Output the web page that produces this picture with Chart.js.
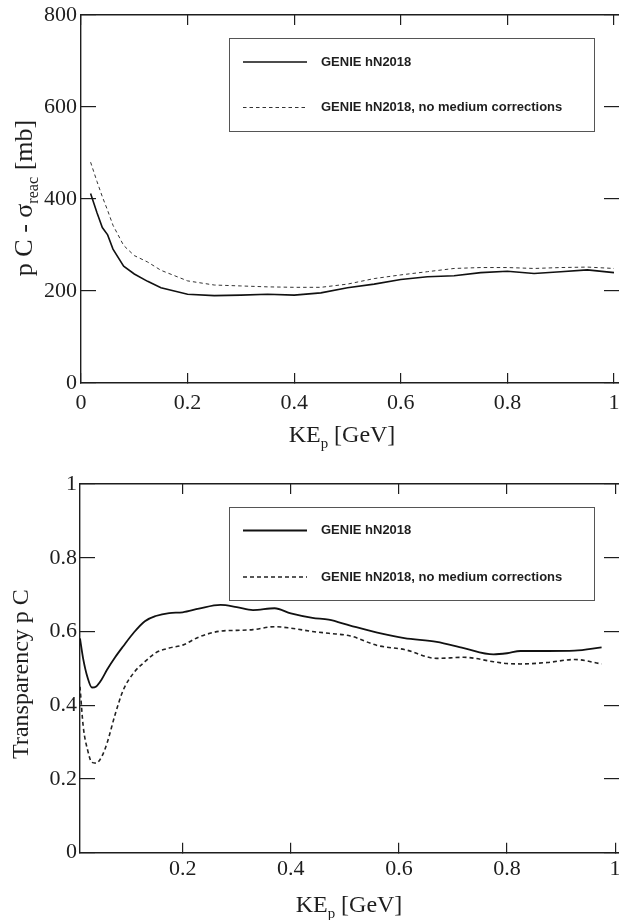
<!DOCTYPE html>
<html>
<head>
<meta charset="utf-8">
<title>GENIE hN2018 p C</title>
<script src="https://cdn.jsdelivr.net/npm/chart.js@4.4.1/dist/chart.umd.min.js"></script>
<style>
    html, body { margin: 0; padding: 0; background: #fff; }
    .panel { position: absolute; left: 0; width: 619px; height: 460px; }
    #top-panel { top: 0; }
    #bottom-panel { top: 460px; }
</style>
</head>
<body>
<div class="panel" id="top-panel"><canvas id="xsec-chart"></canvas></div>
<div class="panel" id="bottom-panel"><canvas id="transparency-chart"></canvas></div>
<script>
// top panel: reaction cross section vs proton kinetic energy
const xsecKE = [0.018, 0.03, 0.04, 0.05, 0.06, 0.08, 0.1, 0.125, 0.15, 0.2, 0.25, 0.3, 0.35, 0.4,
    0.45, 0.5, 0.55, 0.6, 0.65, 0.7, 0.75, 0.8, 0.85, 0.9, 0.95, 1.0];
const xsecMedium = [412, 370, 338, 322, 291, 254, 237, 221, 207, 193, 190, 191, 193, 191,
    196, 207, 215, 225, 231, 233, 240, 243, 238, 242, 246, 240];
const xsecNoMedium = [480, 438, 405, 375, 343, 299, 277, 263, 245, 222, 213, 211, 209, 208,
    208, 215, 227, 235, 242, 249, 251, 251, 249, 251, 252, 249];
const xsecXTicks = [0, 0.2, 0.4, 0.6, 0.8, 1];
const xsecYTicks = [0, 200, 400, 600, 800];

// bottom panel: transparency
const transKE = [0.01, 0.016, 0.024, 0.032, 0.04, 0.05, 0.06, 0.075, 0.09, 0.11, 0.13, 0.15, 0.175,
    0.2, 0.23, 0.27, 0.3, 0.33, 0.37, 0.4, 0.44, 0.47, 0.51, 0.56, 0.61, 0.67, 0.72, 0.775, 0.8,
    0.825, 0.875, 0.925, 0.975];
const transMedium = [0.581, 0.525, 0.475, 0.448, 0.451, 0.470, 0.496, 0.530, 0.560, 0.598, 0.628,
    0.642, 0.650, 0.652, 0.662, 0.672, 0.666, 0.658, 0.663, 0.649, 0.637, 0.632, 0.616, 0.597,
    0.582, 0.572, 0.555, 0.538, 0.541, 0.547, 0.547, 0.548, 0.557];
const transNoMedium = [0.450, 0.342, 0.279, 0.245, 0.243, 0.260, 0.297, 0.375, 0.441, 0.489, 0.518,
    0.542, 0.555, 0.563, 0.585, 0.601, 0.603, 0.605, 0.613, 0.609, 0.600, 0.595, 0.588, 0.562,
    0.551, 0.527, 0.530, 0.518, 0.513, 0.512, 0.516, 0.524, 0.512];
const transXTicks = [0.2, 0.4, 0.6, 0.8, 1];
const transYTicks = [0, 0.2, 0.4, 0.6, 0.8, 1];

const seriesLabels = ["GENIE hN2018", "GENIE hN2018, no medium corrections"];

const SERIF = "'Liberation Serif', 'Times New Roman', serif";
const INK = "#1e1e1e";

// draws text with subscript pieces, centred on cx, baseline at 0
function drawParts(ctx, parts, cx, size) {
    const subSize = size * 0.62;
    const widths = parts.map(p => {
        ctx.font = `${p.sub ? subSize : size}px ${SERIF}`;
        return ctx.measureText(p.text).width;
    });
    let x = cx - widths.reduce((a, b) => a + b, 0) / 2;
    ctx.textAlign = "left";
    ctx.textBaseline = "alphabetic";
    parts.forEach((p, i) => {
        ctx.font = `${p.sub ? subSize : size}px ${SERIF}`;
        ctx.fillText(p.text, x, p.sub ? size * 0.24 : 0);
        x += widths[i];
    });
}

const axisTitles = {
    id: "axisTitles",
    afterDraw(chart, args, opts) {
        const ctx = chart.ctx;
        ctx.save();
        ctx.fillStyle = INK;
        ctx.translate(opts.x.cx, opts.x.baseline);
        drawParts(ctx, opts.x.parts, 0, opts.x.size);
        ctx.restore();

        ctx.save();
        ctx.fillStyle = INK;
        ctx.translate(opts.y.baseline, opts.y.cy);
        ctx.rotate(-Math.PI / 2);
        drawParts(ctx, opts.y.parts, 0, opts.y.size);
        ctx.restore();
    }
};

const boxLegend = {
    id: "boxLegend",
    afterDraw(chart, args, opts) {
        const ctx = chart.ctx;
        ctx.save();
        ctx.fillStyle = "#fff";
        ctx.fillRect(opts.left, opts.top, opts.width, opts.height);
        ctx.strokeStyle = "#555";
        ctx.lineWidth = 1;
        ctx.strokeRect(opts.left + 0.5, opts.top + 0.5, opts.width, opts.height);
        chart.data.datasets.forEach((ds, i) => {
            const y = opts.top + opts.rows[i];
            ctx.beginPath();
            ctx.setLineDash(ds.borderDash || []);
            ctx.lineWidth = ds.borderWidth;
            ctx.strokeStyle = ds.borderColor;
            ctx.moveTo(opts.left + 14, y);
            ctx.lineTo(opts.left + 78, y);
            ctx.stroke();
            ctx.setLineDash([]);
            ctx.fillStyle = INK;
            ctx.font = "bold 13px 'Liberation Sans', Arial, sans-serif";
            ctx.textAlign = "left";
            ctx.textBaseline = "middle";
            ctx.fillText(ds.label, opts.left + 92, y);
        });
        ctx.restore();
    }
};

function makeScales(o) {
    const fixTicks = list => scale => { scale.ticks = list.map(v => ({ value: v })); };
    const noPad = s => { s.paddingLeft = 0; s.paddingRight = 0; s.paddingTop = 0; s.paddingBottom = 0; };
    const tickFont = { family: SERIF, size: 22 };
    const grid = len => ({ drawOnChartArea: false, tickLength: len, color: INK, lineWidth: 1.2 });
    const border = show => ({ display: show, color: INK, width: 1.4 });
    return {
        x: {
            type: "linear", position: "bottom", min: o.xMin, max: o.xMax,
            afterBuildTicks: fixTicks(o.xTicks),
            afterFit: s => { s.height = o.bottom; noPad(s); },
            grid: grid(-10), border: border(true),
            ticks: { font: tickFont, color: INK, padding: o.xPad, maxRotation: 0, autoSkip: false,
                callback: v => String(v) }
        },
        x2: {
            type: "linear", position: "top", min: o.xMin, max: o.xMax,
            afterBuildTicks: fixTicks(o.xTicks),
            afterFit: s => { s.height = o.top; noPad(s); },
            grid: grid(-10), border: border(true),
            ticks: { display: false }
        },
        y: {
            type: "linear", position: "left", min: o.yMin, max: o.yMax,
            afterBuildTicks: fixTicks(o.yTicks),
            afterFit: s => { s.width = o.left; noPad(s); },
            grid: grid(-15), border: border(true),
            ticks: { font: tickFont, color: INK, padding: o.yPad, autoSkip: false,
                callback: v => String(v) }
        },
        y2: {
            type: "linear", position: "right", min: o.yMin, max: o.yMax,
            afterBuildTicks: fixTicks(o.yTicks),
            afterFit: s => { s.width = 0; noPad(s); },
            grid: grid(-15), border: border(false),
            ticks: { display: false }
        }
    };
}

function points(xs, ys) {
    return xs.map((x, i) => ({ x: x, y: ys[i] }));
}

const xsecCtx = document.getElementById("xsec-chart").getContext("2d");

new Chart(xsecCtx, {
    type: "line",
    data: {
        datasets: [{
            label: seriesLabels[0],
            data: points(xsecKE, xsecMedium),
            borderColor: "#111",
            borderWidth: 1.6,
            pointRadius: 0,
            fill: false,
            tension: 0
        }, {
            label: seriesLabels[1],
            data: points(xsecKE, xsecNoMedium),
            borderColor: "#333",
            borderWidth: 1,
            borderDash: [3.5, 3],
            pointRadius: 0,
            fill: false,
            tension: 0
        }]
    },
    options: {
        responsive: true,
        maintainAspectRatio: false,
        animation: false,
        layout: { padding: 0 },
        plugins: {
            legend: { display: false },
            tooltip: { enabled: false },
            boxLegend: { left: 229, top: 38, width: 365, height: 93, rows: [24, 69.5] },
            axisTitles: {
                x: { parts: [{ text: "KE" }, { text: "p", sub: true }, { text: " [GeV]" }],
                    cx: 342, baseline: 442, size: 24 },
                y: { parts: [{ text: "p C - σ" }, { text: "reac", sub: true }, { text: " [mb]" }],
                    cy: 198, baseline: 32, size: 26 }
            }
        },
        scales: makeScales({
            xMin: 0, xMax: 1.0094, xTicks: xsecXTicks,
            yMin: 0, yMax: 800, yTicks: xsecYTicks,
            left: 81, top: 15, bottom: 77, xPad: 17, yPad: 19
        })
    },
    plugins: [axisTitles, boxLegend]
});

const transCtx = document.getElementById("transparency-chart").getContext("2d");

new Chart(transCtx, {
    type: "line",
    data: {
        datasets: [{
            label: seriesLabels[0],
            data: points(transKE, transMedium),
            borderColor: "#111",
            borderWidth: 1.8,
            pointRadius: 0,
            fill: false,
            cubicInterpolationMode: "monotone"
        }, {
            label: seriesLabels[1],
            data: points(transKE, transNoMedium),
            borderColor: "#222",
            borderWidth: 1.6,
            borderDash: [4, 3],
            pointRadius: 0,
            fill: false,
            cubicInterpolationMode: "monotone"
        }]
    },
    options: {
        responsive: true,
        maintainAspectRatio: false,
        animation: false,
        layout: { padding: 0 },
        plugins: {
            legend: { display: false },
            tooltip: { enabled: false },
            boxLegend: { left: 229, top: 47, width: 365, height: 93, rows: [23.5, 70] },
            axisTitles: {
                x: { parts: [{ text: "KE" }, { text: "p", sub: true }, { text: " [GeV]" }],
                    cx: 349, baseline: 452, size: 24 },
                y: { parts: [{ text: "Transparency p C" }],
                    cy: 214, baseline: 28, size: 24 }
            }
        },
        scales: makeScales({
            xMin: 0.01, xMax: 1.0072, xTicks: transXTicks,
            yMin: 0, yMax: 1, yTicks: transYTicks,
            left: 80, top: 24, bottom: 67.3, xPad: 13, yPad: 18
        })
    },
    plugins: [axisTitles, boxLegend]
});
</script>
</body>
</html>
